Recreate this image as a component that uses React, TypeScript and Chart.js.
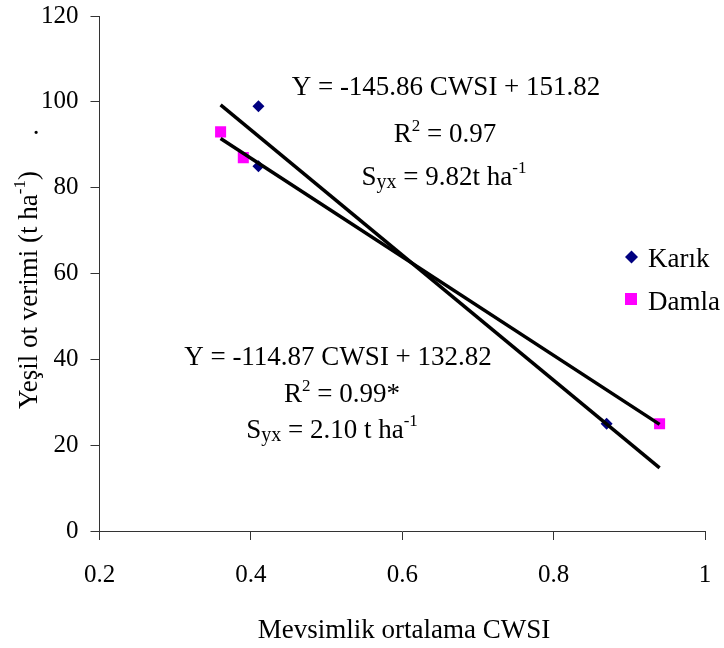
import React, { useEffect, useRef } from "react";
import { Chart, registerables } from "chart.js";

Chart.register(...registerables);

// Axis ticks
const xTicks = [0.2, 0.4, 0.6, 0.8, 1];
const yTicks = [0, 20, 40, 60, 80, 100, 120];

// Observations: seasonal mean CWSI vs. green forage yield (t/ha)
const karikCwsi = [0.41, 0.41, 0.87];
const karikYield = [99, 85, 25];
const damlaCwsi = [0.36, 0.39, 0.94];
const damlaYield = [93, 87, 25];

// Regression lines (Y = slope * CWSI + intercept) and their CWSI span
const fitSlopes = [-145.86, -114.87];
const fitIntercepts = [151.82, 132.82];
const fitRange = [0.36, 0.94];

const SERIF = '"Liberation Serif", "Times New Roman", serif';
const NAVY = "#000080";
const MAGENTA = "#FF00FF";

type Run = { t: string; size: number; dy?: number };

function runWidth(ctx: CanvasRenderingContext2D, runs: Run[]) {
  let w = 0;
  for (const r of runs) {
    ctx.font = `${r.size}px ${SERIF}`;
    w += ctx.measureText(r.t).width;
  }
  return w;
}

function drawRich(ctx: CanvasRenderingContext2D, runs: Run[], cx: number, baseline: number) {
  let x = cx - runWidth(ctx, runs) / 2;
  ctx.textAlign = "left";
  ctx.textBaseline = "alphabetic";
  for (const r of runs) {
    ctx.font = `${r.size}px ${SERIF}`;
    ctx.fillText(r.t, x, baseline + (r.dy || 0));
    x += ctx.measureText(r.t).width;
  }
}

const textPlugin = {
  id: "chartText",
  afterDraw(chart: Chart) {
    const ctx = chart.ctx;
    ctx.save();
    ctx.fillStyle = "#000";

    // Equation block for the steeper fit
    drawRich(ctx, [{ t: "Y = -145.86 CWSI + 151.82", size: 27 }], 446, 95);
    drawRich(ctx, [{ t: "R", size: 27 }, { t: "2", size: 17, dy: -11 }, { t: " = 0.97", size: 27 }], 445, 142);
    drawRich(
      ctx,
      [
        { t: "S", size: 27 },
        { t: "yx", size: 20, dy: 3 },
        { t: " = 9.82t ha", size: 27 },
        { t: "-1", size: 17, dy: -12 },
      ],
      444,
      185
    );

    // Equation block for the second fit
    drawRich(ctx, [{ t: "Y = -114.87 CWSI + 132.82", size: 27 }], 338, 365);
    drawRich(ctx, [{ t: "R", size: 27 }, { t: "2", size: 17, dy: -11 }, { t: " = 0.99*", size: 27 }], 342, 402);
    drawRich(
      ctx,
      [
        { t: "S", size: 27 },
        { t: "yx", size: 20, dy: 3 },
        { t: " = 2.10 t ha", size: 27 },
        { t: "-1", size: 17, dy: -12 },
      ],
      332,
      438
    );

    // Legend
    ctx.fillStyle = NAVY;
    ctx.beginPath();
    ctx.moveTo(631.5 - 6.5, 257);
    ctx.lineTo(631.5, 257 - 6.5);
    ctx.lineTo(631.5 + 6.5, 257);
    ctx.lineTo(631.5, 257 + 6.5);
    ctx.closePath();
    ctx.fill();
    ctx.fillStyle = MAGENTA;
    ctx.fillRect(625, 293, 12, 12);
    ctx.fillStyle = "#000";
    ctx.font = `27px ${SERIF}`;
    ctx.textAlign = "left";
    ctx.fillText("Karık", 648, 267);
    ctx.fillText("Damla", 648, 310);

    // X axis title
    drawRich(ctx, [{ t: "Mevsimlik ortalama CWSI", size: 27 }], 404, 638);

    // Y axis title (rotated)
    ctx.save();
    ctx.translate(37, 290);
    ctx.rotate(-Math.PI / 2);
    drawRich(
      ctx,
      [
        { t: "Yeşil ot verimi (t ha", size: 27 },
        { t: "-1", size: 17, dy: -12 },
        { t: ")", size: 27 },
      ],
      0,
      0
    );
    ctx.restore();
    ctx.font = `27px ${SERIF}`;
    ctx.textAlign = "center";
    ctx.fillText(".", 36, 134);

    ctx.restore();
  },
};

export default function App() {
  const canvasRef = useRef<HTMLCanvasElement | null>(null);

  useEffect(() => {
    const canvas = canvasRef.current;
    if (!canvas) return;

    const fitData = fitSlopes.map((m, i) =>
      fitRange.map((x) => ({ x, y: m * x + fitIntercepts[i] }))
    );

    const chart = new Chart(canvas, {
      type: "scatter",
      data: {
        datasets: [
          ...fitData.map((d) => ({
            type: "line" as const,
            data: d,
            borderColor: "#000",
            borderWidth: 3.5,
            pointRadius: 0,
            fill: false,
            showLine: true,
          })),
          {
            label: "Karık",
            data: karikCwsi.map((x, i) => ({ x, y: karikYield[i] })),
            pointStyle: "rectRot",
            pointRadius: 6,
            backgroundColor: NAVY,
            borderColor: NAVY,
            borderWidth: 0,
          },
          {
            label: "Damla",
            data: damlaCwsi.map((x, i) => ({ x, y: damlaYield[i] })),
            pointStyle: "rect",
            pointRadius: 7.8,
            backgroundColor: MAGENTA,
            borderColor: MAGENTA,
            borderWidth: 0,
          },
        ],
      },
      options: {
        animation: false,
        responsive: true,
        maintainAspectRatio: false,
        layout: { padding: { top: 16, right: 19, left: 0, bottom: 0 } },
        plugins: { legend: { display: false }, tooltip: { enabled: false } },
        scales: {
          x: {
            type: "linear",
            min: 0.2,
            max: 1,
            afterBuildTicks: (s: any) => {
              s.ticks = xTicks.map((value) => ({ value }));
            },
            afterFit: (s: any) => {
              s.height = 117;
              s.paddingLeft = 0;
              s.paddingRight = 0;
              s.paddingTop = 0;
              s.paddingBottom = 0;
            },
            ticks: {
              color: "#000",
              font: { family: SERIF, size: 25 },
              padding: 20,
              callback: (v: any) => String(v),
            },
            grid: { drawOnChartArea: false, drawTicks: true, tickLength: 9, color: "#333", lineWidth: 1 },
            border: { display: true, color: "#333", width: 1 },
          },
          y: {
            type: "linear",
            min: 0,
            max: 120,
            afterBuildTicks: (s: any) => {
              s.ticks = yTicks.map((value) => ({ value }));
            },
            afterFit: (s: any) => {
              s.width = 99.5;
              s.paddingLeft = 0;
              s.paddingRight = 0;
              s.paddingTop = 0;
              s.paddingBottom = 0;
            },
            ticks: {
              color: "#000",
              font: { family: SERIF, size: 25 },
              padding: 12,
              callback: (v: any) => String(v),
            },
            grid: { drawOnChartArea: false, drawTicks: true, tickLength: 9, color: "#333", lineWidth: 1 },
            border: { display: true, color: "#333", width: 1 },
          },
        },
      },
      plugins: [textPlugin],
    });

    return () => chart.destroy();
  }, []);

  return (
    <div style={{ position: "fixed", left: 0, top: 0, width: 724, height: 648, background: "#fff" }}>
      <canvas ref={canvasRef} />
    </div>
  );
}
